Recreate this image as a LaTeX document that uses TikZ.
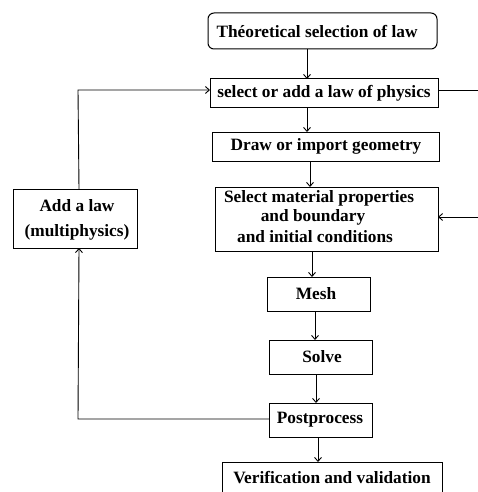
\documentclass[tikz,border=0pt]{standalone}
\usepackage{fontspec}
\setmainfont{Liberation Serif}
\usetikzlibrary{arrows.meta}
\begin{document}
\begin{tikzpicture}[x=1pt,y=-1pt,
  box/.style={draw,line width=1pt},
  txt/.style={font=\bfseries\fontsize{17.3}{19}\selectfont,inner sep=0pt},
  arr/.style={-{Straight Barb[length=4pt,width=7pt]},line width=0.9pt},
  ln/.style={line width=0.9pt}]
\useasboundingbox (0,0) rectangle (478,492);
\begin{scope}
\clip (0,0) rectangle (478,492);
\draw[box,rounded corners=6pt] (208,13) rectangle (437,49);
\node[txt] (theo) at (317,31) {Théoretical selection of law};
\coordinate (theoB) at (307,49);
\draw[box] (210,79) rectangle (438,108);
\node[txt] (sel) at (324,93) {select or add a law of physics};
\coordinate (selT) at (307,79);
\coordinate (selB) at (307,108);
\coordinate (selL) at (210,90);
\coordinate (selR) at (438,90);
\draw[box] (212,132) rectangle (439,161);
\node[txt] (drw) at (326,146) {Draw or import geometry};
\coordinate (drwT) at (307,132);
\coordinate (drwB) at (310,161);
\draw[box] (215,187) rectangle (438,251);
\node[txt] (m1) at (319,198) {Select material properties};
\node[txt] (m2) at (313,217) {and boundary};
\node[txt] (m3) at (315,237) {and initial conditions};
\coordinate (matT) at (310,187);
\coordinate (matB) at (312,251);
\coordinate (matR) at (438,217);
\draw[box] (13,189) rectangle (137,248);
\node[txt] (a1) at (77,206) {Add a law};
\node[txt] (a2) at (77,232) {(multiphysics)};
\coordinate (addT) at (79,189);
\coordinate (addB) at (79,248);
\draw[box] (267,277) rectangle (370,311);
\node[txt] (mesh) at (316,294) {Mesh};
\coordinate (meshT) at (312,277);
\coordinate (meshB) at (315,311);
\draw[box] (269,340) rectangle (372,374);
\node[txt] (solve) at (322,357) {Solve};
\coordinate (solveT) at (315,340);
\coordinate (solveB) at (316,374);
\draw[box] (269,403) rectangle (372,437);
\node[txt] (post) at (320,420) {Postprocess};
\coordinate (postT) at (316,403);
\coordinate (postB) at (318,437);
\coordinate (postL) at (269,419);
\draw[box] (222,462) rectangle (442,510);
\node[txt] (ver) at (332,478) {Verification and validation};
\coordinate (verT) at (318,462);
\coordinate (c1) at (78,90);
\coordinate (c2) at (78,419);
\coordinate (rt1) at (478,90);
\coordinate (rt2) at (478,217);
\end{scope}
\draw[arr] (theoB) -- (selT);
\draw[arr] (selB) -- (drwT);
\draw[arr] (drwB) -- (matT);
\draw[arr] (matB) -- (meshT);
\draw[arr] (meshB) -- (solveT);
\draw[arr] (solveB) -- (postT);
\draw[arr] (postB) -- (verT);
\draw[ln] (selR) -- (rt1);
\draw[arr] (rt2) -- (matR);
\draw[arr] (addT) -- (c1) -- (selL);
\draw[arr] (postL) -- (c2) -- (addB);
\end{tikzpicture}
\end{document}
